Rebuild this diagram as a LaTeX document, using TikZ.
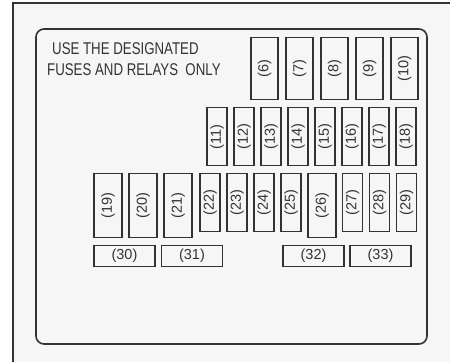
\documentclass[tikz,border=0pt]{standalone}
\usepackage{graphicx}
\usepackage{fontspec}
\setmainfont{Liberation Sans}
\newfontfamily\narrowsans[FakeStretch=0.78]{Liberation Sans}
\definecolor{panelgray}{HTML}{F6F6F6}
\definecolor{linegray}{HTML}{333333}
\tikzset{
  fuse/.style={draw=linegray, line width=1.4pt, fill=panelgray, inner sep=0pt,
    anchor=north, text=linegray, font=\fontsize{14.5}{14.5}\selectfont},
  notetext/.style={anchor=base west, inner sep=0pt, text=linegray,
    font=\narrowsans\fontsize{17}{17}\selectfont},
}
\begin{document}
\begin{tikzpicture}[x=1pt,y=-1pt]
            \useasboundingbox (0,0) rectangle (450,362);
            \fill[panelgray] (13,3) rectangle (450,362);
            \draw[linegray, line width=1.6pt] (13,362) -- (13,3) -- (450,3);
            \draw[linegray, line width=1.6pt, rounded corners=8pt] (36,29) rectangle (427,344);

            \node[notetext] (note1) at (52,54) {USE THE DESIGNATED};
            \node[notetext] (note2) at (47,75) {FUSES AND RELAYS\ \ ONLY};

            % top row
            \foreach \n [count=\i from 0] in {6,...,10}{
                \node[fuse, minimum width=27pt, minimum height=62pt] (f\n) at ({264.5+35*\i},37) {\rotatebox{90}{(\n)}};
            }
            % second row
            \foreach \n [count=\i from 0] in {11,...,18}{
                \node[fuse, minimum width=20pt, minimum height=58pt] (f\n) at ({217+27*\i},107) {\rotatebox{90}{(\n)}};
            }
            % third row
            \foreach \n/\x in {19/108,20/143,21/178,26/322}{
                \node[fuse, minimum width=28pt, minimum height=64pt] (f\n) at (\x,173) {\rotatebox{90}{(\n)}};
            }
            \foreach \n/\x in {22/210,23/237,24/264,25/291,27/352.5,28/379.5,29/406.5}{
                \node[fuse, minimum width=20pt, minimum height=58pt] (f\n) at (\x,173) {\rotatebox{90}{(\n)}};
            }
            % bottom row
            \foreach \n/\x in {30/124.5,31/192,32/313.5,33/380.5}{
                \node[fuse, minimum width=61pt, minimum height=21pt] (f\n) at (\x,245) {(\n)};
            }
        \end{tikzpicture}
\end{document}
